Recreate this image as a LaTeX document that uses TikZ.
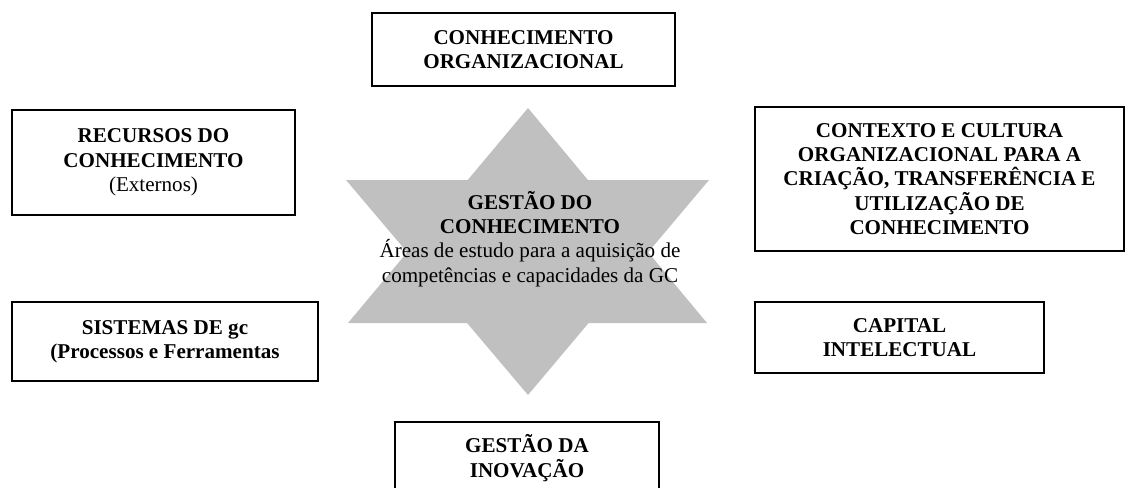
\documentclass[tikz,border=0pt]{standalone}
\usepackage{fontspec}
\setmainfont{Liberation Serif}
\definecolor{estrela}{RGB}{192,192,192}
\tikzset{
  caixa/.style={draw, line width=0.9pt, align=center, inner sep=0pt,
    font=\fontsize{12}{13.8}\selectfont\bfseries},
}

\begin{document}
\begin{tikzpicture}[x=0.02cm,y=-0.02cm]
\useasboundingbox (0,0) rectangle (1126,487);
% estrela de seis pontas
\fill[estrela] (528,108)--(707,323)--(348,323)--cycle;
\fill[estrela] (528,395)--(346,180)--(709,180)--cycle;
\node[align=center, font=\fontsize{12}{13.8}\selectfont] (gc) at (530,239)
  {\textbf{GESTÃO DO}\\ \textbf{CONHECIMENTO}\\ Áreas de estudo para a aquisição de\\ competências e capacidades da GC};
% caixas
\node[caixa, minimum width=6.06cm, minimum height=1.46cm] (org) at (523.5,49.5)
  {CONHECIMENTO\\ ORGANIZACIONAL};
\node[caixa, minimum width=5.66cm, minimum height=2.10cm] (rec) at (153.5,162.5)
  {RECURSOS DO\\ CONHECIMENTO\\ \mdseries(Externos)};
\node[caixa, minimum width=7.38cm, minimum height=2.88cm] (ctx) at (939.5,179)
  {CONTEXTO E CULTURA\\ ORGANIZACIONAL PARA A\\ CRIAÇÃO, TRANSFERÊNCIA E\\ UTILIZAÇÃO DE\\ CONHECIMENTO};
\node[caixa, minimum width=6.12cm, minimum height=1.58cm] (sis) at (165,341.5)
  {SISTEMAS DE gc\\ (Processos e Ferramentas};
\node[caixa, minimum width=5.78cm, minimum height=1.42cm] (cap) at (899.5,337.5)
  {CAPITAL\\ INTELECTUAL};
\node[caixa, minimum width=5.28cm, minimum height=1.44cm] (ino) at (527,458)
  {GESTÃO DA\\ INOVAÇÃO};
\end{tikzpicture}
\end{document}
